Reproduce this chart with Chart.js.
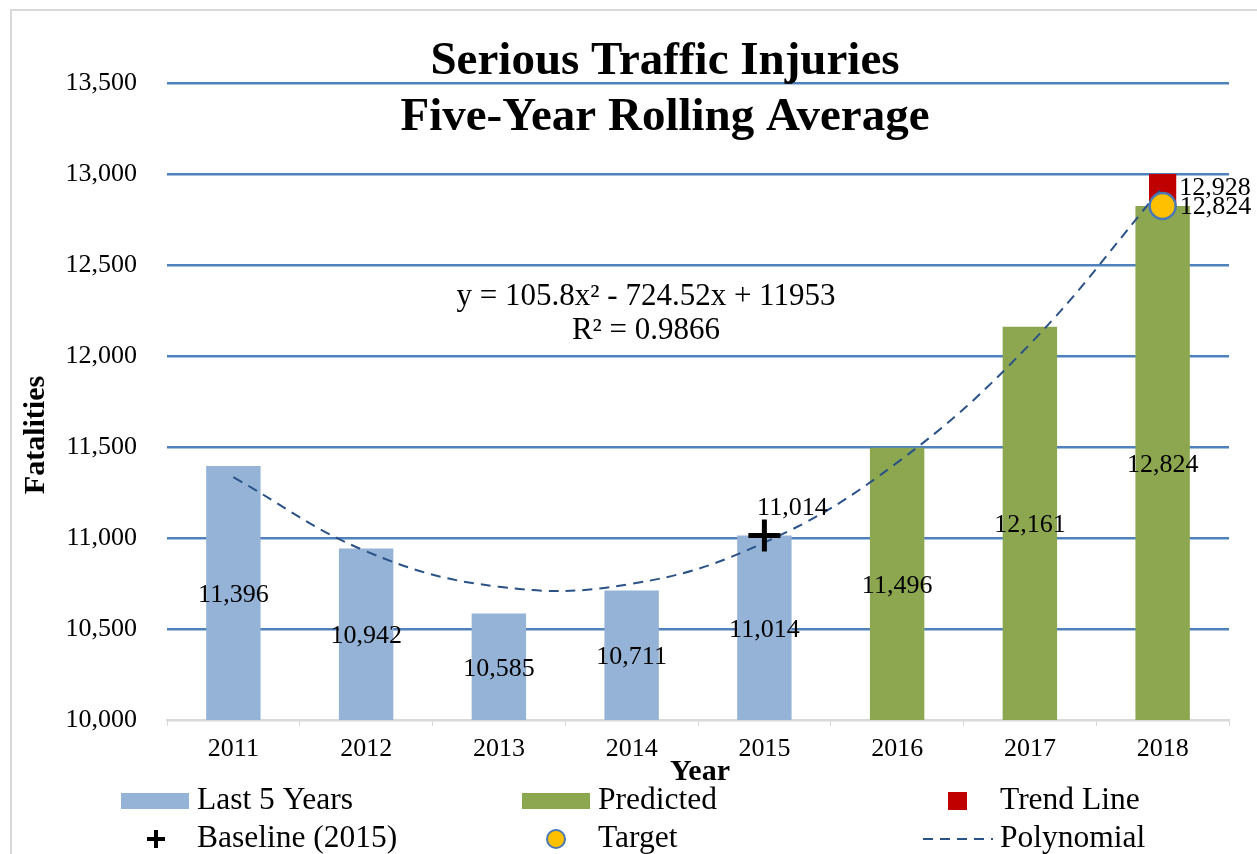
<!DOCTYPE html>
<html>
<head>
<meta charset="utf-8">
<title>Serious Traffic Injuries</title>
<script src="https://cdn.jsdelivr.net/npm/chart.js@4.4.1/dist/chart.umd.min.js"></script>
<style>
    html, body { margin: 0; padding: 0; background: #ffffff; overflow: hidden; }
    #wrap { position: relative; width: 1257px; height: 854px; }
</style>
</head>
<body>
<div id="wrap"><canvas id="injuryChart"></canvas></div>
<script>
// Values
const years = ['2011', '2012', '2013', '2014', '2015', '2016', '2017', '2018'];
const last5Years = [11396, 10942, 10585, 10711, 11014, null, null, null];
const predicted = [null, null, null, null, null, 11496, 12161, 12824];
const trendBar = [null, null, null, null, null, null, null, [12824, 13000]];
const trendValue = 12928;
const baseline = [null, null, null, null, 11014, null, null, null];
const target = [null, null, null, null, null, null, null, 12824];
const polynomial = [11334, 10927, 10732, 10748, 10975, 11414, 12065, 12928];
const yMin = 10000;
const yMax = 13500;
const yStep = 500;

const SERIF = "'Liberation Serif', 'Times New Roman', serif";
const fmt = v => v.toLocaleString('en-US');

// Bar values, point labels, title, axis titles and legend
const labelPlugin = {
    id: 'labels',
    beforeDraw(chart) {
        const c = chart.ctx;
        c.save();
        c.fillStyle = '#ffffff';
        c.fillRect(0, 0, chart.width, chart.height);
        c.strokeStyle = '#d9d9d9';
        c.lineWidth = 2;
        c.strokeRect(11, 10, 1400, 1000);
        c.restore();
    },
    afterDatasetsDraw(chart) {
        const c = chart.ctx;
        const bottom = chart.chartArea.bottom;
        c.save();
        c.fillStyle = '#000000';
        c.font = '26px ' + SERIF;
        c.textAlign = 'center';
        c.textBaseline = 'middle';
        [0, 1].forEach(i => {
            chart.getDatasetMeta(i).data.forEach((el, j) => {
                const v = chart.data.datasets[i].data[j];
                if (v == null) return;
                c.fillText(fmt(v), el.x, (el.y + bottom) / 2 + 2);
            });
        });
        // baseline point label
        const b = chart.getDatasetMeta(4).data[4];
        c.fillText(fmt(baseline[4]), b.x + 28, b.y - 27);
        // trend line + target labels
        c.textAlign = 'left';
        const tb = chart.getDatasetMeta(2).data[7];
        const yT = chart.scales.y.getPixelForValue(trendValue);
        c.fillText(fmt(trendValue), tb.x + tb.width / 2 + 3, yT + 1);
        const t = chart.getDatasetMeta(5).data[7];
        c.fillText(fmt(target[7]), t.x + 17, t.y + 1);
        c.restore();
    },
    afterDraw(chart) {
        const c = chart.ctx;
        c.save();
        c.fillStyle = '#000000';
        c.textAlign = 'center';
        c.textBaseline = 'alphabetic';
        c.font = 'bold 47px ' + SERIF;
        c.fillText('Serious Traffic Injuries', 665, 74);
        c.fillText('Five-Year Rolling Average', 665, 130);

        c.font = '31px ' + SERIF;
        c.textBaseline = 'middle';
        c.fillText('y = 105.8x\u00B2 - 724.52x + 11953', 646, 297);
        c.fillText('R\u00B2 = 0.9866', 646, 331);

        c.font = 'bold 30px ' + SERIF;
        c.fillText('Year', 700, 772);
        c.save();
        c.translate(36, 435);
        c.rotate(-Math.PI / 2);
        c.fillText('Fatalities', 0, 0);
        c.restore();

        // legend
        const ds = chart.data.datasets;
        c.font = '31.5px ' + SERIF;
        c.textAlign = 'left';
        const row1 = 801, row2 = 839;
        c.fillStyle = ds[0].backgroundColor;
        c.fillRect(121, 793, 68, 16);
        c.fillStyle = ds[1].backgroundColor;
        c.fillRect(522, 793, 68, 16);
        c.fillStyle = ds[2].backgroundColor;
        c.fillRect(948, 792, 19, 18);

        c.strokeStyle = '#000000';
        c.lineWidth = 4;
        c.beginPath();
        c.moveTo(147, row2); c.lineTo(165, row2);
        c.moveTo(156, row2 - 9); c.lineTo(156, row2 + 9);
        c.stroke();

        c.fillStyle = ds[5].backgroundColor;
        c.strokeStyle = ds[5].borderColor;
        c.lineWidth = 2;
        c.beginPath();
        c.arc(556, row2, 9, 0, Math.PI * 2);
        c.fill();
        c.stroke();

        c.strokeStyle = ds[3].borderColor;
        c.lineWidth = 2;
        c.setLineDash([10, 7]);
        c.beginPath();
        c.moveTo(923, row2); c.lineTo(993, row2);
        c.stroke();
        c.setLineDash([]);

        c.fillStyle = '#000000';
        c.fillText('Last 5 Years', 197, row1);
        c.fillText('Predicted', 598, row1);
        c.fillText('Trend Line', 1000, row1);
        c.fillText('Baseline (2015)', 197, row2);
        c.fillText('Target', 598, row2);
        c.fillText('Polynomial', 1000, row2);
        c.restore();
    }
};

const ctx = document.getElementById('injuryChart').getContext('2d');
new Chart(ctx, {
    data: {
        labels: years,
        datasets: [
            {
                type: 'bar',
                label: 'Last 5 Years',
                data: last5Years,
                backgroundColor: '#95B3D7',
                barPercentage: 0.41,
                categoryPercentage: 1,
                grouped: false,
                order: 3
            },
            {
                type: 'bar',
                label: 'Predicted',
                data: predicted,
                backgroundColor: '#8DA750',
                barPercentage: 0.41,
                categoryPercentage: 1,
                grouped: false,
                order: 3
            },
            {
                type: 'bar',
                label: 'Trend Line',
                data: trendBar,
                backgroundColor: '#C00000',
                barPercentage: 0.205,
                categoryPercentage: 1,
                grouped: false,
                order: 3
            },
            {
                type: 'line',
                label: 'Polynomial',
                data: polynomial,
                borderColor: '#2A5287',
                borderWidth: 2,
                borderDash: [10, 7],
                pointRadius: 0,
                tension: 0.4,
                fill: false,
                order: 2
            },
            {
                type: 'line',
                label: 'Baseline (2015)',
                data: baseline,
                showLine: false,
                pointStyle: 'cross',
                pointRadius: 16,
                pointBorderWidth: 5,
                borderColor: '#000000',
                backgroundColor: '#000000',
                order: 1
            },
            {
                type: 'line',
                label: 'Target',
                data: target,
                showLine: false,
                pointStyle: 'circle',
                pointRadius: 13,
                pointBorderWidth: 2.5,
                backgroundColor: '#FFC000',
                borderColor: '#4A78B5',
                order: 0
            }
        ]
    },
    options: {
        responsive: true,
        maintainAspectRatio: false,
        animation: false,
        layout: {
            padding: { left: 0, right: 28, top: 83, bottom: 94 }
        },
        plugins: {
            legend: { display: false },
            tooltip: { enabled: false },
            title: { display: false }
        },
        scales: {
            x: {
                afterFit: scale => { scale.height = 40; },
                border: { display: true, color: '#d9d9d9', width: 2 },
                grid: {
                    drawOnChartArea: false,
                    color: '#d9d9d9',
                    tickLength: 6,
                    offset: true
                },
                ticks: {
                    color: '#000000',
                    padding: 8,
                    font: { family: SERIF, size: 26 }
                }
            },
            y: {
                min: yMin,
                max: yMax,
                afterFit: scale => { scale.width = 167; },
                border: { display: false },
                grid: {
                    drawTicks: false,
                    lineWidth: 2.5,
                    color: c => c.tick && c.tick.value === yMin ? '#d9d9d9' : '#4F81BD'
                },
                ticks: {
                    stepSize: yStep,
                    padding: 30,
                    color: '#000000',
                    font: { family: SERIF, size: 26 },
                    callback: v => fmt(v)
                }
            }
        }
    },
    plugins: [labelPlugin]
});
</script>
</body>
</html>
